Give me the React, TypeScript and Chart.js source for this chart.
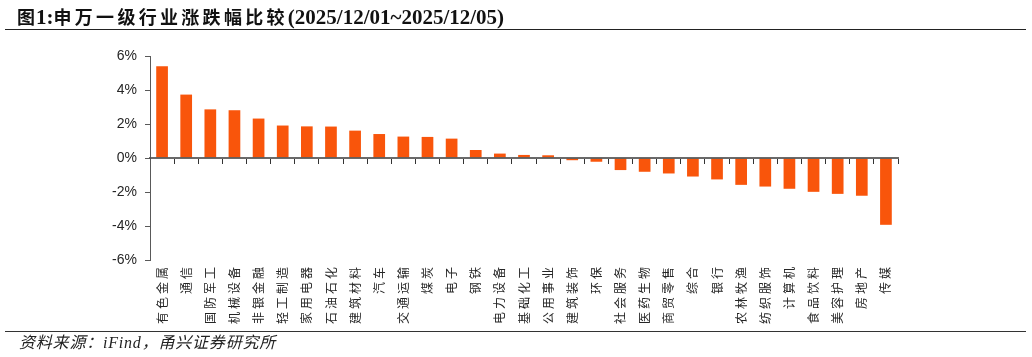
import React, { useEffect, useRef } from "react";
import { Chart, registerables } from "chart.js";

Chart.register(...registerables);

const categories: string[] = [
  "有色金属", "通信", "国防军工", "机械设备", "非银金融", "轻工制造", "家用电器", "石油石化",
  "建筑材料", "汽车", "交通运输", "煤炭", "电子", "钢铁", "电力设备", "基础化工",
  "公用事业", "建筑装饰", "环保", "社会服务", "医药生物", "商贸零售", "综合", "银行",
  "农林牧渔", "纺织服饰", "计算机", "食品饮料", "美容护理", "房地产", "传媒",
];

const changes: number[] = [
  5.39, 3.73, 2.86, 2.81, 2.32, 1.91, 1.86, 1.85,
  1.61, 1.41, 1.26, 1.24, 1.14, 0.47, 0.26, 0.18,
  0.16, -0.13, -0.22, -0.71, -0.81, -0.91, -1.09, -1.26,
  -1.58, -1.68, -1.81, -1.99, -2.11, -2.22, -3.93,
];

const yTicks: number[] = [-6, -4, -2, 0, 2, 4, 6];

const titleCn1 = "图";
const titleNum = "1:";
const titleCn2 = "申万一级行业涨跌幅比较";
const titleDate = "(2025/12/01~2025/12/05)";
const sourceText = "资料来源：iFind，甬兴证券研究所";

const labelSpacingPlugin = {
  id: "labelSpacing",
  afterLayout(chart: any) {
    const xs = chart.scales.x;
    if (xs && !xs.__patched) {
      const orig = xs.drawLabels.bind(xs);
      xs.drawLabels = (area: any) => {
        const ctx = chart.ctx;
        ctx.save();
        try {
          (ctx as any).letterSpacing = "3px";
        } catch (e) {}
        orig(area);
        ctx.restore();
      };
      xs.__patched = true;
    }
  },
};

export default function App() {
  const ref = useRef<HTMLCanvasElement | null>(null);

  useEffect(() => {
    if (!ref.current) return;
    const chart = new Chart(ref.current, {
      type: "bar",
      data: {
        labels: categories,
        datasets: [
          {
            data: changes,
            backgroundColor: "#F9550B",
            borderWidth: 0,
            barPercentage: 0.485,
            categoryPercentage: 1,
            xAxisID: "x",
            yAxisID: "y",
          },
        ],
      },
      plugins: [labelSpacingPlugin],
      options: {
        responsive: false,
        animation: false,
        events: [],
        layout: { padding: { left: 0, right: 134, top: 56, bottom: 0 } },
        plugins: {
          legend: { display: false },
          tooltip: { enabled: false },
          title: { display: false },
        },
        scales: {
          x: {
            type: "category",
            position: "bottom",
            offset: true,
            grid: { display: false, drawTicks: false },
            border: { display: false },
            ticks: {
              autoSkip: false,
              minRotation: 90,
              maxRotation: 90,
              padding: 4,
              color: "#262626",
              font: { family: "'Noto Sans CJK SC'", size: 12 },
            },
            afterFit(scale: any) {
              scale.height = 97;
            },
          },
          x2: {
            type: "category",
            labels: categories,
            position: { y: 0 },
            offset: true,
            grid: {
              display: true,
              offset: true,
              drawOnChartArea: false,
              drawTicks: true,
              tickLength: 5,
              color: "#333333",
              lineWidth: 1,
            },
            border: { display: true, color: "rgba(80,80,80,0.85)", width: 2, z: 1 },
            ticks: { display: false },
          },
          y: {
            type: "linear",
            min: -6,
            max: 6,
            afterBuildTicks(scale: any) {
              scale.ticks = yTicks.map((v) => ({ value: v }));
            },
            grid: {
              display: true,
              drawOnChartArea: false,
              drawTicks: true,
              tickLength: 5,
              color: "#595959",
            },
            border: { display: true, color: "#595959", width: 1 },
            ticks: {
              padding: 8,
              color: "#262626",
              font: { family: "'Liberation Sans', Arial", size: 14 },
              callback: (v: any) => `${v}%`,
            },
            afterFit(scale: any) {
              scale.width = 150;
            },
          },
        },
      },
    });
    return () => chart.destroy();
  }, []);

  return (
    <div style={{ position: "absolute", left: 0, top: 0, width: 1032, height: 357, background: "#fff", overflow: "hidden" }}>
      <canvas ref={ref} width={1032} height={357} style={{ position: "absolute", left: 0, top: 0, display: "block" }} />
      <div
        style={{
          position: "absolute",
          left: 17,
          top: 2,
          whiteSpace: "nowrap",
          color: "#111",
          fontWeight: "bold",
          lineHeight: "28px",
        }}
      >
        <span style={{ fontFamily: "'Noto Sans CJK SC'", fontSize: 18, letterSpacing: 1 }}>{titleCn1}</span>
        <span style={{ fontFamily: "'Liberation Serif'", fontSize: 21 }}>{titleNum}</span>
        <span style={{ fontFamily: "'Noto Sans CJK SC'", fontSize: 18, letterSpacing: 3.3 }}>{titleCn2}</span>
        <span style={{ fontFamily: "'Liberation Serif'", fontSize: 21 }}>{titleDate}</span>
      </div>
      <div style={{ position: "absolute", left: 5, top: 29, width: 1021, height: 0, borderTop: "1.5px solid #222" }} />
      <div style={{ position: "absolute", left: 5, top: 331, width: 1021, height: 0, borderTop: "1.5px solid #333" }} />
      <div
        style={{
          position: "absolute",
          left: 19,
          top: 333,
          whiteSpace: "nowrap",
          color: "#222",
          fontStyle: "italic",
          fontFamily: "'Liberation Serif', 'Noto Sans CJK SC'",
          fontSize: 16,
          letterSpacing: 0.8,
          lineHeight: "20px",
        }}
      >
        {sourceText}
      </div>
    </div>
  );
}
